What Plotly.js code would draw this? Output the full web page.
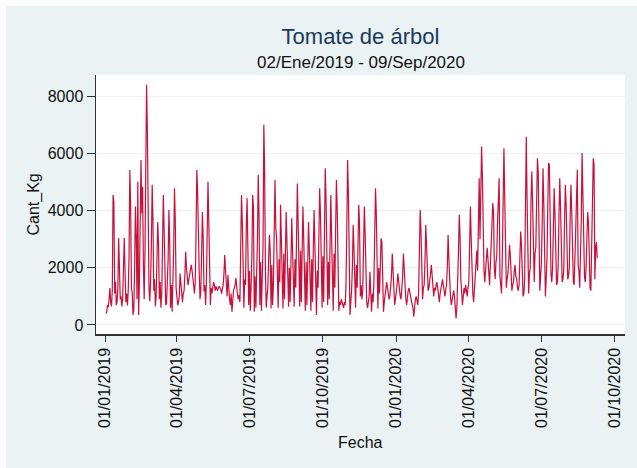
<!DOCTYPE html>
<html>
<head>
<meta charset="utf-8">
<script src="https://cdn.plot.ly/plotly-3.0.1.min.js"></script>
<style>
html,body{margin:0;padding:0;background:#ffffff;}
#chart{position:absolute;left:6px;top:6px;width:631px;height:462px;}
</style>
</head>
<body>
<div id="chart"></div>
<script>
// Daily quantities (kg) from 02/01/2019 to 09/09/2020, one row per week
const startDate = '2019-01-02';
const cantKg = [
 400,450,700,620,900,1290,800,
 650,1200,4545,4300,1100,1500,700,
 800,1300,3040,2200,900,1000,650,
 900,1800,3040,1900,800,1100,680,
 1200,2400,5420,4200,1300,1100,350,
 520,2000,4140,3100,900,5010,350,
 1500,3200,5770,3900,4830,2100,900,
 2600,6240,8400,6760,3500,1290,830,
 1500,2800,4900,3700,1200,1600,650,
 1000,2100,3600,2800,900,1500,600,
 1100,2600,4545,3300,1000,700,750,
 1300,2300,4020,2900,600,1400,460,
 1500,2700,4780,3600,1300,900,690,
 800,1000,1800,1400,950,800,1100,
 1200,1700,2560,2000,1500,1400,1600,
 1800,2000,2100,1900,1700,1400,1100,
 1500,3200,5420,4660,2300,1800,900,
 1200,2500,3950,3000,1170,1400,700,
 1500,2900,5010,3600,1100,700,1300,
 1100,1300,1500,1400,1200,1350,1250,
 1200,1300,1350,1300,1250,1100,1300,
 1400,1800,2450,1900,1300,1000,1750,
 1200,900,700,1100,460,1000,1200,
 1300,1400,1640,1200,1050,900,1050,
 800,2200,4545,3600,1050,600,1600,
 1400,3440,4430,2680,700,1900,500,
 1300,2400,4545,4080,460,1700,600,
 1500,3000,5250,3800,700,2200,500,
 1900,2800,7000,5420,1860,600,1000,
 1300,2300,3150,2560,580,2100,700,
 1400,3000,5070,3400,3030,1700,600,
 2300,1500,4200,3100,1600,580,2500,
 900,2400,3960,2900,1100,640,2000,
 800,2200,3730,2600,900,640,2300,
 1300,3000,4950,3600,1200,650,2600,
 800,2500,4140,3000,1300,500,2200,
 700,2100,3600,2700,1100,500,2300,
 800,2600,4020,2800,1000,350,1900,
 1300,3100,4780,3900,1600,600,2400,
 800,3200,5480,4400,1500,700,2200,
 900,2800,4545,3000,1000,500,2500,
 1300,3300,5070,4080,900,500,800,
 700,900,750,700,600,800,700,
 1400,3300,5770,4660,1000,350,800,
 1200,2000,3500,2700,1100,600,2100,
 1300,2700,4200,3500,1000,1400,900,
 1200,2600,4140,3200,1100,800,600,
 900,1000,1860,1300,460,1100,800,
 1500,3000,4780,3900,1200,580,2000,
 1100,2000,3030,2900,700,460,800,
 1000,1200,1500,1300,1100,900,1000,
 1300,1700,2500,1800,1200,700,900,
 1100,1400,1800,1500,1200,1000,900,
 1200,1700,2500,1900,1100,900,700,
 1000,1200,1300,1100,900,850,700,
 600,290,700,900,1000,800,700,
 1100,2560,4020,3300,1200,900,1300,
 1400,2200,3500,2800,1500,1200,1300,
 1500,1800,2100,1700,1400,1000,1300,
 1200,1400,1500,1300,1000,800,1100,
 1300,1500,1600,1400,1200,1000,1200,
 1400,2000,3150,2300,1100,1000,700,
 900,1100,1200,1000,700,230,600,
 1300,2500,3850,3100,1600,800,700,
 1000,1300,1100,1400,1200,1000,1300,
 1500,2800,4140,3000,1300,1100,800,
 1300,1700,2200,2600,1900,3850,5130,
 3000,4800,6240,5190,2600,1900,1500,
 2000,2500,2700,2300,1700,1400,2100,
 2600,3500,4260,3960,2000,1600,2200,
 2400,3600,4545,5130,1700,1400,1100,
 2400,4000,6180,4500,2100,1300,1600,
 1800,2200,2800,2450,1600,1200,1400,
 1500,1900,2100,1700,1600,1300,1200,
 1400,2500,3270,2800,1500,1000,1100,
 1600,4080,6580,4430,1900,1100,1800,
 2000,4430,5370,4200,1700,1500,2500,
 2700,4300,5830,5370,2100,1200,1700,
 2200,3600,5480,4200,1400,1000,1600,
 2300,4200,5660,5600,2800,1800,1500,
 2000,3400,4780,3900,2200,1400,1500,
 2100,3800,5130,4100,2000,1500,1600,
 1900,3600,4900,4200,2200,1600,1700,
 2000,3700,4900,4000,2300,1500,1400,
 2100,3300,4430,5420,2100,1900,1300,
 2200,3700,6010,4300,2400,1700,1500,
 2000,3000,3950,3600,1600,1300,1200,
 2500,4000,5830,5600,1600,2680,2900,
 2330
];
const yTicks = [0, 2000, 4000, 6000, 8000];
const titleText = 'Tomate de árbol';
const subtitleText = '02/Ene/2019 - 09/Sep/2020';
const xTitle = 'Fecha';
const yTitle = 'Cant_Kg';

const fechas = [];
const d0 = new Date(startDate + 'T00:00:00Z');
for (let i = 0; i < cantKg.length; i++) {
  const d = new Date(d0.getTime() + i * 86400000);
  fechas.push(d.toISOString().slice(0, 10));
}

const font = 'Liberation Sans, Arial, sans-serif';
const trace = {
  x: fechas, y: cantKg, type: 'scatter', mode: 'lines',
  line: {color: '#c8103c', width: 1.2}, hoverinfo: 'x+y'
};
const layout = {
  width: 631, height: 462,
  margin: {l: 90, r: 12, t: 69, b: 134},
  paper_bgcolor: '#eaf2f3', plot_bgcolor: '#ffffff',
  showlegend: false,
  font: {family: font, color: '#000', size: 13},
  title: {text: titleText, font: {family: font, size: 22, color: '#1a3a5c'},
          xref: 'paper', x: 0.5, xanchor: 'center', yref: 'container', y: 1 - 30/462, yanchor: 'middle'},
  xaxis: {
    type: 'date', range: ['2018-12-20 14:00', '2020-10-13 19:00'],
    tick0: '2019-01-01', dtick: 'M3', tickformat: '%d/%m/%Y', tickangle: -90,
    ticks: 'outside', ticklen: 6, tickcolor: '#333', tickwidth: 1,
    showline: true, linecolor: '#333', linewidth: 1.5, showgrid: false, zeroline: false,
    tickfont: {family: font, size: 16, color: '#111'}
  },
  yaxis: {
    range: [-315, 8741], tickvals: yTicks, ticktext: yTicks.map(String),
    ticks: 'outside', ticklen: 8, tickcolor: '#333', tickwidth: 1,
    showline: true, linecolor: '#333', linewidth: 1.5,
    showgrid: true, gridcolor: '#eaf2f3', gridwidth: 1, zeroline: false,
    tickfont: {family: font, size: 16, color: '#111'}
  },
  annotations: [
    {text: subtitleText, xref: 'paper', yref: 'paper', x: 0.5, y: (328-56)/259, xanchor: 'center', yanchor: 'middle', showarrow: false, font: {family: font, size: 17, color: '#111'}},
    {text: xTitle, xref: 'paper', yref: 'paper', x: 0.5, y: (328-436)/259, xanchor: 'center', yanchor: 'middle', showarrow: false, font: {family: font, size: 16, color: '#111'}},
    {text: yTitle, xref: 'paper', yref: 'paper', x: (27-90)/529, y: 0.5, xanchor: 'center', yanchor: 'middle', textangle: -90, showarrow: false, font: {family: font, size: 16, color: '#111'}}
  ]
};
Plotly.newPlot('chart', [trace], layout, {displayModeBar: false, staticPlot: true});
</script>
</body>
</html>
